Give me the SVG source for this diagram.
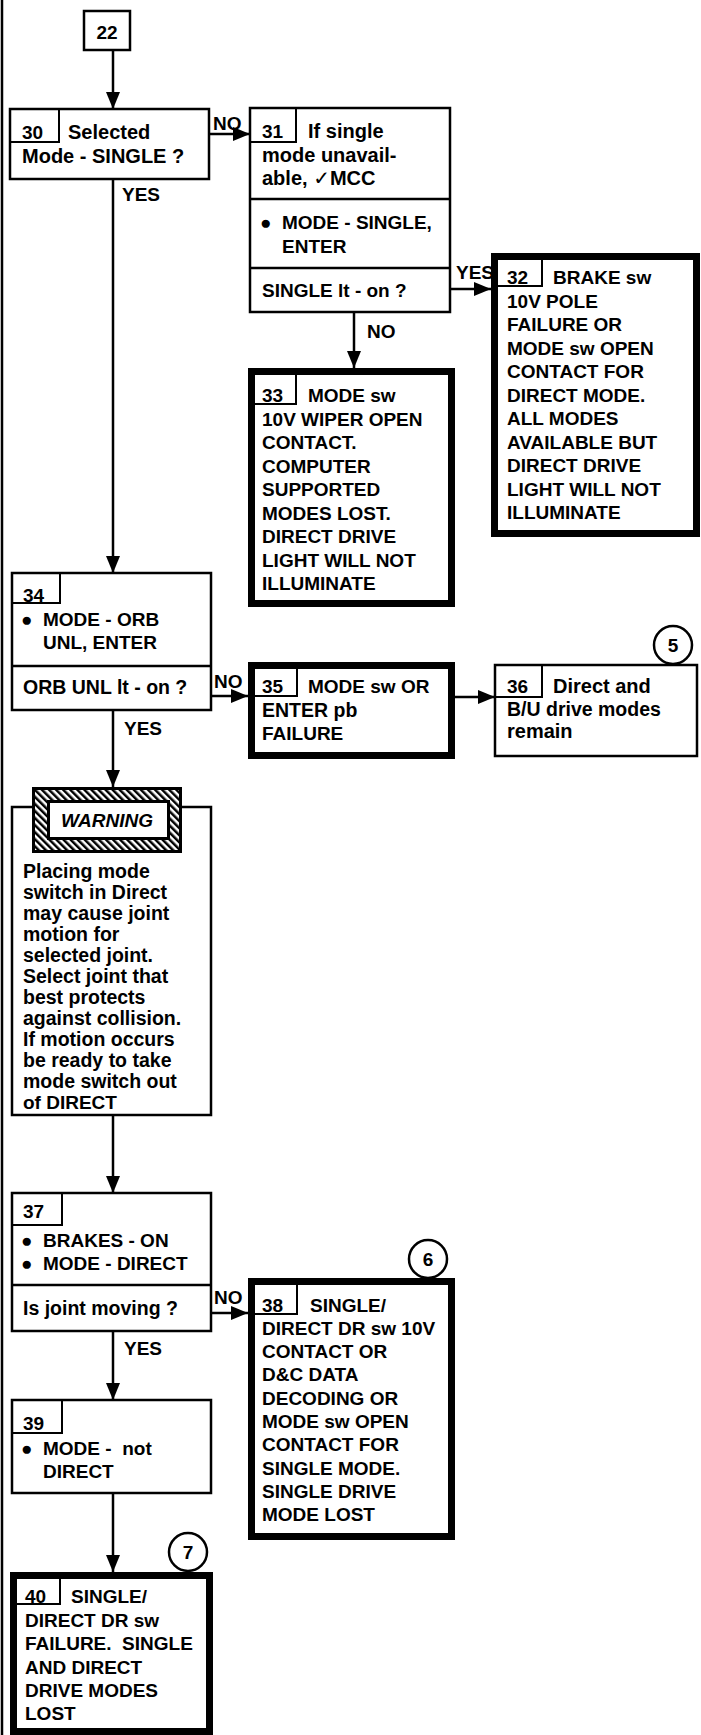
<svg xmlns="http://www.w3.org/2000/svg" width="701" height="1735" viewBox="0 0 701 1735">
<style>
text { font-family: "Liberation Sans", Arial, sans-serif; font-size: 19px; font-weight: bold; fill: #000; }
text.lc { font-size: 20px; }
text.wb { font-size: 19.5px; }
.box { fill: #fff; stroke: #000; stroke-width: 2.5; }
.thick { fill: #fff; stroke: #000; stroke-width: 7; }
.tab { fill: none; stroke: #000; stroke-width: 2; }
.conn { stroke: #000; stroke-width: 2.5; fill: none; marker-end: url(#arr); }
.circ { fill: #fff; stroke: #000; stroke-width: 2.5; }
.mid { text-anchor: middle; }
</style>
<defs>
<marker id="arr" markerUnits="userSpaceOnUse" markerWidth="17" markerHeight="14" refX="17" refY="7" viewBox="0 0 17 14" orient="auto">
<path d="M0,0 L17,7 L0,14 Z" fill="#000"/>
</marker>
<pattern id="hatch" width="5" height="5" patternUnits="userSpaceOnUse" patternTransform="rotate(-45)">
<rect width="5" height="5" fill="#fff"/>
<rect width="2.5" height="5" fill="#000"/>
</pattern>
</defs>
<rect width="701" height="1735" fill="#fff"/>
<line x1="2" y1="0" x2="2" y2="1735" stroke="#000" stroke-width="2.5"/>

<g id="connectors">
<line class="conn" x1="113" y1="50" x2="113" y2="109"/>
<line class="conn" x1="209" y1="134" x2="250" y2="134"/>
<text x="213" y="130">NO</text>
<line class="conn" x1="113" y1="179" x2="113" y2="573"/>
<text x="122" y="201">YES</text>
<line class="conn" x1="450" y1="289" x2="491" y2="289"/>
<text x="456" y="279">YES</text>
<line class="conn" x1="354" y1="312" x2="354" y2="368"/>
<text x="367" y="338">NO</text>
<line class="conn" x1="211" y1="696" x2="248" y2="696"/>
<text x="214" y="688">NO</text>
<line class="conn" x1="455" y1="697" x2="495" y2="697"/>
<line class="conn" x1="113" y1="710" x2="113" y2="787"/>
<text x="124" y="735">YES</text>
<line class="conn" x1="113" y1="1115" x2="113" y2="1193"/>
<line class="conn" x1="211" y1="1313" x2="248" y2="1313"/>
<text x="214" y="1304">NO</text>
<line class="conn" x1="113" y1="1331" x2="113" y2="1400"/>
<text x="124" y="1355">YES</text>
<line class="conn" x1="113" y1="1493" x2="113" y2="1572"/>
</g>

<g id="n22">
<rect class="box" x="84" y="11" width="46" height="39"/>
<text class="mid" x="107" y="39">22</text>
</g>

<g id="n30">
<rect class="box" x="10" y="109" width="199" height="70"/>
<path class="tab" d="M10,142 H59 V109"/>
<text x="22" y="139">30</text>
<text class="lc" x="68" y="139">Selected</text>
<text class="lc" x="22" y="163">Mode - SINGLE ?</text>
</g>

<g id="n31">
<rect class="box" x="250" y="108" width="200" height="204"/>
<line x1="250" y1="199" x2="450" y2="199" stroke="#000" stroke-width="2.5"/>
<line x1="250" y1="268" x2="450" y2="268" stroke="#000" stroke-width="2.5"/>
<path class="tab" d="M250,142 H296 V108"/>
<text x="262" y="138">31</text>
<text class="lc" x="308" y="138">If single</text>
<text class="lc" x="262" y="162">mode unavail-</text>
<text class="lc" x="262" y="185">able, <tspan font-family="DejaVu Sans, sans-serif">✓</tspan>MCC</text>
<text x="260" y="229">●</text>
<text x="282" y="229">MODE - SINGLE,</text>
<text x="282" y="253">ENTER</text>
<text x="262" y="297">SINGLE lt - on ?</text>
</g>

<g id="n32">
<rect class="thick" x="494.5" y="256.5" width="202" height="277"/>
<path class="tab" d="M498,286 H542 V260"/>
<text x="507" y="284">32</text>
<text x="553" y="284">BRAKE sw</text>
<text x="507" y="307.5">10V POLE</text>
<text x="507" y="331">FAILURE OR</text>
<text x="507" y="354.5">MODE sw OPEN</text>
<text x="507" y="378">CONTACT FOR</text>
<text x="507" y="401.5">DIRECT MODE.</text>
<text x="507" y="425">ALL MODES</text>
<text x="507" y="448.5">AVAILABLE BUT</text>
<text x="507" y="472">DIRECT DRIVE</text>
<text x="507" y="495.5">LIGHT WILL NOT</text>
<text x="507" y="519">ILLUMINATE</text>
</g>

<g id="n33">
<rect class="thick" x="251.5" y="371.5" width="200" height="232"/>
<path class="tab" d="M255,404 H296 V375"/>
<text x="262" y="402">33</text>
<text x="308" y="402">MODE sw</text>
<text x="262" y="425.5">10V WIPER OPEN</text>
<text x="262" y="449">CONTACT.</text>
<text x="262" y="472.5">COMPUTER</text>
<text x="262" y="496">SUPPORTED</text>
<text x="262" y="519.5">MODES LOST.</text>
<text x="262" y="543">DIRECT DRIVE</text>
<text x="262" y="566.5">LIGHT WILL NOT</text>
<text x="262" y="590">ILLUMINATE</text>
</g>

<g id="n34">
<rect class="box" x="12" y="573" width="199" height="137"/>
<line x1="12" y1="666" x2="211" y2="666" stroke="#000" stroke-width="2.5"/>
<path class="tab" d="M12,603 H60 V573"/>
<text x="23" y="602">34</text>
<text x="21" y="626">●</text>
<text x="43" y="626">MODE - ORB</text>
<text x="43" y="649">UNL, ENTER</text>
<text class="wb" x="23" y="694">ORB UNL lt - on ?</text>
</g>

<g id="n35">
<rect class="thick" x="251.5" y="665.5" width="200" height="90"/>
<path class="tab" d="M255,696 H297 V669"/>
<text x="262" y="693">35</text>
<text x="308" y="693">MODE sw OR</text>
<text class="wb" x="262" y="717">ENTER pb</text>
<text x="262" y="740">FAILURE</text>
</g>

<g id="n36">
<rect class="box" x="495" y="665" width="202" height="91"/>
<path class="tab" d="M495,697 H542 V665"/>
<text x="507" y="693">36</text>
<text class="lc" x="553" y="693">Direct and</text>
<text class="wb" x="507" y="716">B/U drive modes</text>
<text class="lc" x="507" y="738">remain</text>
<circle class="circ" cx="673" cy="645" r="19"/>
<text class="mid" x="673" y="652">5</text>
</g>

<g id="warning">
<rect class="box" x="12" y="807" width="199" height="308"/>
<rect x="33.5" y="788.5" width="147" height="63" fill="url(#hatch)" stroke="#000" stroke-width="3"/>
<rect x="48.5" y="801.5" width="120" height="37" fill="#fff" stroke="#000" stroke-width="3"/>
<text class="mid" x="107" y="827" font-style="italic">WARNING</text>
<text class="wb" x="23" y="878">Placing mode</text>
<text class="wb" x="23" y="899">switch in Direct</text>
<text class="wb" x="23" y="920">may cause joint</text>
<text class="wb" x="23" y="941">motion for</text>
<text class="wb" x="23" y="962">selected joint.</text>
<text class="wb" x="23" y="983">Select joint that</text>
<text class="wb" x="23" y="1004">best protects</text>
<text class="wb" x="23" y="1025">against collision.</text>
<text class="wb" x="23" y="1046">If motion occurs</text>
<text class="wb" x="23" y="1067">be ready to take</text>
<text class="wb" x="23" y="1088">mode switch out</text>
<text x="23" y="1109">of DIRECT</text>
</g>

<g id="n37">
<rect class="box" x="12" y="1193" width="199" height="138"/>
<line x1="12" y1="1285" x2="211" y2="1285" stroke="#000" stroke-width="2.5"/>
<path class="tab" d="M12,1225 H62 V1193"/>
<text x="23" y="1218">37</text>
<text x="21" y="1247">●</text>
<text x="43" y="1247">BRAKES - ON</text>
<text x="21" y="1270">●</text>
<text x="43" y="1270">MODE - DIRECT</text>
<text class="wb" x="23" y="1315">Is joint moving ?</text>
</g>

<g id="n38">
<rect class="thick" x="251.5" y="1281.5" width="200" height="255"/>
<path class="tab" d="M255,1314 H297 V1285"/>
<text x="262" y="1312">38</text>
<text x="310" y="1312">SINGLE/</text>
<text x="262" y="1335">DIRECT DR sw 10V</text>
<text x="262" y="1358">CONTACT OR</text>
<text x="262" y="1381">D&amp;C DATA</text>
<text x="262" y="1404.5">DECODING OR</text>
<text x="262" y="1428">MODE sw OPEN</text>
<text x="262" y="1451">CONTACT FOR</text>
<text x="262" y="1474.5">SINGLE MODE.</text>
<text x="262" y="1498">SINGLE DRIVE</text>
<text x="262" y="1521">MODE LOST</text>
<circle class="circ" cx="428" cy="1259" r="19"/>
<text class="mid" x="428" y="1266">6</text>
</g>

<g id="n39">
<rect class="box" x="12" y="1400" width="199" height="93"/>
<path class="tab" d="M12,1433 H62 V1400"/>
<text x="23" y="1430">39</text>
<text x="21" y="1455">●</text>
<text x="43" y="1455" xml:space="preserve">MODE -  not</text>
<text x="43" y="1478">DIRECT</text>
</g>

<g id="n40">
<rect class="thick" x="13.5" y="1575.5" width="196" height="156"/>
<path class="tab" d="M17,1604 H60 V1579"/>
<text x="25" y="1603">40</text>
<text x="71" y="1603">SINGLE/</text>
<text x="25" y="1627">DIRECT DR sw</text>
<text x="25" y="1650" xml:space="preserve">FAILURE.  SINGLE</text>
<text x="25" y="1673.5">AND DIRECT</text>
<text x="25" y="1697">DRIVE MODES</text>
<text x="25" y="1720">LOST</text>
<circle class="circ" cx="188" cy="1552" r="19"/>
<text class="mid" x="188" y="1559">7</text>
</g>
</svg>
